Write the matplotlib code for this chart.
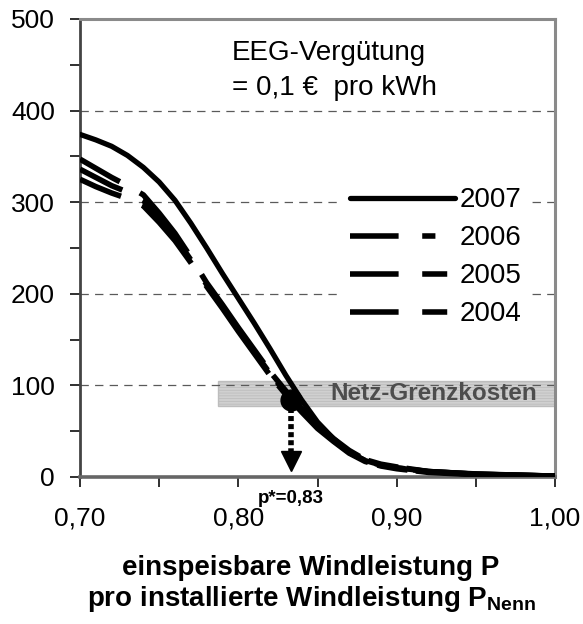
import matplotlib
matplotlib.use("Agg")
import matplotlib.pyplot as plt
from matplotlib.ticker import FixedLocator, FuncFormatter
from matplotlib.patches import Rectangle
from matplotlib.lines import Line2D

plt.rcParams['font.family'] = ['Liberation Sans', 'DejaVu Sans']
plt.rcParams['mathtext.fontset'] = 'custom'
plt.rcParams['mathtext.rm'] = 'Liberation Sans'
plt.rcParams['mathtext.bf'] = 'Liberation Sans:bold'
plt.rcParams['lines.scale_dashes'] = False
plt.rcParams['hatch.color'] = '#e6e6e6'
plt.rcParams['hatch.linewidth'] = 0.6

# ---- data ----
x = [0.70, 0.71, 0.72, 0.73, 0.74, 0.75, 0.76, 0.77, 0.78, 0.79, 0.80, 0.81, 0.82,
     0.83, 0.84, 0.85, 0.86, 0.87, 0.88, 0.89, 0.90, 0.92, 0.95, 1.00]
y2007 = [374, 368, 361, 351, 338, 322, 302, 277, 250, 222, 195, 168, 140,
         111, 84, 60, 42, 27, 18, 13, 10, 6, 3.5, 1]
y2006 = [347, 337, 327, 318, 308, 288, 266, 240, 212, 188, 163, 139, 115,
         94, 75, 57, 42, 29, 19, 14, 11, 6, 3, 1]
y2005 = [336, 327, 318, 311, 302, 283, 262, 237, 210, 186, 161, 137, 113,
         92, 73, 55, 40, 27, 18, 13, 10, 6, 3, 1]
y2004 = [325, 317, 310, 304, 296, 278, 258, 234, 208, 184, 159, 135, 111,
         90, 71, 53, 39, 26, 17, 12, 9, 5, 2.5, 1]
series_labels = ['2007', '2006', '2005', '2004']

band_x = [0.787, 1.00]
band_y = [77, 105]
band_label = 'Netz-Grenzkosten'
p_star = 0.833
p_star_value = 84
p_star_label = 'p*=0,83'
note_lines = ['EEG-Vergütung', '= 0,1 €  pro kWh']

x_major = [0.70, 0.80, 0.90, 1.00]
x_minor = [0.75, 0.85, 0.95]
y_major = [0, 100, 200, 300, 400, 500]
y_minor = [50, 150, 250, 350, 450]
xlabel_1 = 'einspeisbare Windleistung P'
xlabel_2 = r'pro installierte Windleistung $\mathbf{P}_{\mathbf{Nenn}}$'

# ---- figure ----
fig = plt.figure(figsize=(5.83, 6.24), dpi=100)
ax = fig.add_axes([0.1372, 0.2356, 0.952 - 0.1372, 0.9696 - 0.2356])
ax.set_xlim(0.70, 1.00)
ax.set_ylim(0, 500)

# grid
for v in y_major[1:-1]:
    ax.axhline(v, color='#5a5a5a', lw=0.9, dashes=(6, 4.5), zorder=2)

# band
ax.add_patch(Rectangle((band_x[0], band_y[0]), band_x[1] - band_x[0], band_y[1] - band_y[0],
                       facecolor='#d0d0d0', edgecolor='#bdbdbd', lw=1, hatch='------',
                       zorder=1))
ax.text(0.989, (band_y[0] + band_y[1]) / 2, band_label, ha='right', va='center',
        fontsize=17.5, fontweight='bold', color='#4d4d4d', zorder=3)

# curves (composite dash pattern of the overlapping years)
curve_dash = (34, 16.5, 55, 19, 78, 11, 86, 7, 22, 6, 400)
for yy, off in ((y2004, 2), (y2005, 0), (y2006, 1)):
    ax.plot(x, yy, color='black', lw=4, linestyle=(off, curve_dash),
            dash_capstyle='butt', dash_joinstyle='round', zorder=4)
ax.plot(x, y2007, color='black', lw=3.8, solid_capstyle='round',
        solid_joinstyle='round', zorder=5)

# p* marker and arrow
ax.plot([p_star], [p_star_value], 'o', color='black', ms=15, zorder=6)
ax.plot([p_star, p_star], [p_star_value - 9, 27], color='black', lw=4,
        linestyle=(0, (3.6, 2.2)), dash_capstyle='butt', zorder=6)
ax.plot([p_star], [17], marker='v', color='black', ms=15, zorder=6)

# note text
ax.text(0.32, 0.8875, '\n'.join(note_lines), transform=ax.transAxes, ha='left', va='center',
        fontsize=20, linespacing=1.45)

# legend
h07 = Line2D([], [], color='black', lw=3.8, solid_capstyle='round')
h06 = Line2D([], [], color='black', lw=4, linestyle=(0, (35, 17, 9.5, 17)), dash_capstyle='butt')
h05 = Line2D([], [], color='black', lw=4, linestyle=(0, (35, 17, 18, 17)), dash_capstyle='butt')
h04 = Line2D([], [], color='black', lw=4, linestyle=(0, (35, 17, 18, 17)), dash_capstyle='butt')
leg = ax.legend(handles=[h07, h06, h05, h04], labels=series_labels, loc='center left',
                bbox_to_anchor=(0.554, 0.4795), frameon=True, fancybox=False,
                facecolor='white', edgecolor='none', framealpha=1,
                fontsize=20, handlelength=3.78, handletextpad=0.18,
                labelspacing=0.435, borderpad=0.25, borderaxespad=0)
leg.set_zorder(7)

# ticks
ax.xaxis.set_major_locator(FixedLocator(x_major))
ax.xaxis.set_minor_locator(FixedLocator(x_minor))
ax.yaxis.set_major_locator(FixedLocator(y_major))
ax.yaxis.set_minor_locator(FixedLocator(y_minor))
ax.xaxis.set_major_formatter(FuncFormatter(lambda v, p: f'{v:.2f}'.replace('.', ',')))
ax.yaxis.set_major_formatter(FuncFormatter(lambda v, p: f'{v:.0f}'))
ax.tick_params(axis='both', which='both', direction='out', length=7, width=1.3,
               color='#202020', labelsize=19)
ax.tick_params(axis='y', which='major', pad=11)
ax.tick_params(axis='x', which='major', pad=14.5)

for s in ['top', 'right']:
    ax.spines[s].set_color('#8a8a8a')
    ax.spines[s].set_linewidth(2.2)
ax.spines['left'].set_color('#444444')
ax.spines['left'].set_linewidth(2)
ax.spines['bottom'].set_color('#666666')
ax.spines['bottom'].set_linewidth(2.6)

# p* label
ax.text(p_star, -0.047, p_star_label, transform=ax.get_xaxis_transform(), ha='center',
        va='center', fontsize=13.5, fontweight='bold')

# x label lines
fig.text(0.5335, 1 - 568 / 624, xlabel_1, ha='center', va='center', fontsize=20,
         fontweight='bold')
fig.text(0.5335, 1 - 599 / 624, xlabel_2, ha='center', va='center', fontsize=20,
         fontweight='bold')

fig.savefig('out.png', dpi=100)
